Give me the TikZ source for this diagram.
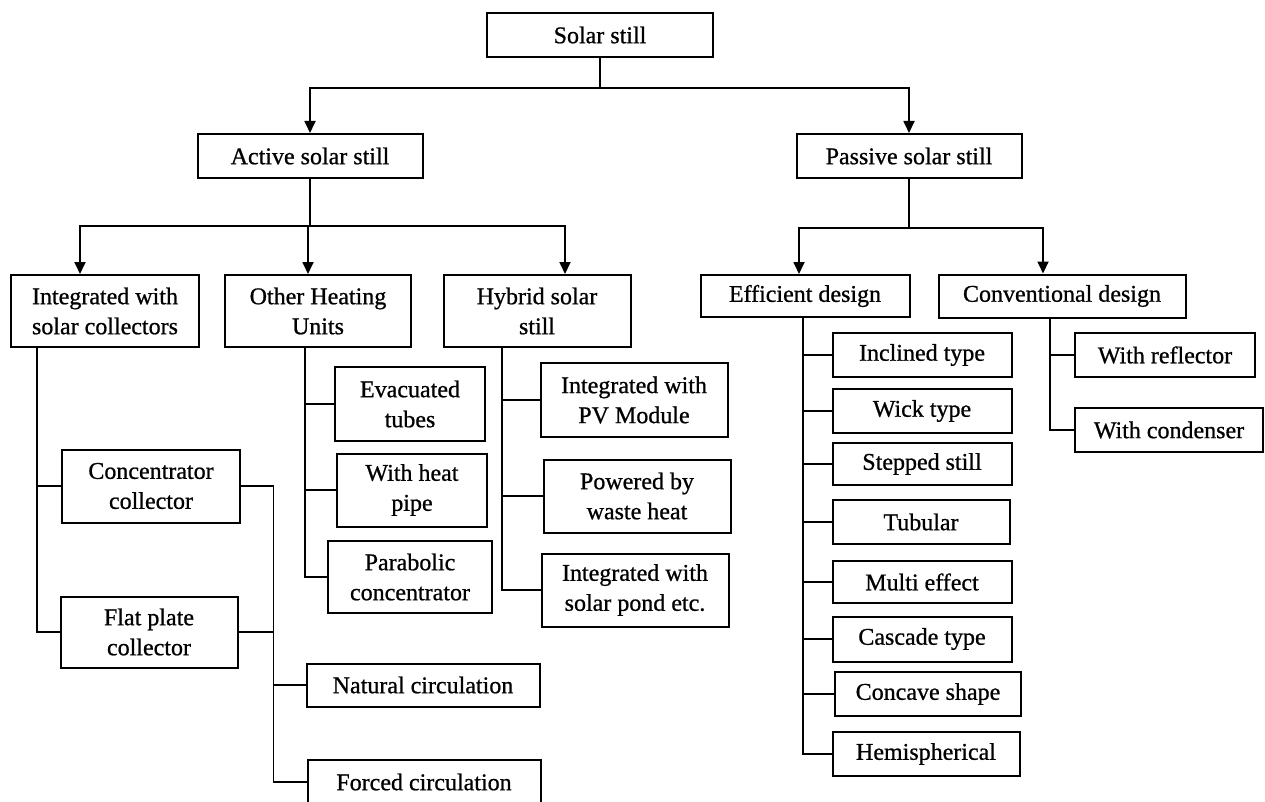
\documentclass[tikz,border=0pt]{standalone}
\usepackage{fontspec}
\setmainfont[FakeBold=0.8]{Liberation Serif}
\usepackage{tikz}
\usetikzlibrary{arrows.meta,positioning}

\begin{document}
\begin{tikzpicture}[x=1pt,y=-1pt,line width=1.8pt,>={Triangle[length=12pt,width=11pt]},
    box/.style={rectangle,draw,line width=2pt,align=center,inner sep=2pt,font=\fontsize{24}{30}\selectfont},
    wh/.style 2 args={minimum width=#1pt,minimum height=#2pt}]
    \useasboundingbox (0,0) rectangle (1265,802);

    \node[box,wh={226}{44}] (solar)   at (600,35)  {Solar still};
    \node[box,wh={225}{44}] (active)  at (310,156) {Active solar still};
    \node[box,wh={225}{44}] (passive) at (909,156) {Passive solar still};

    \node[box,wh={188}{72}] (integ)  at (105,311) {Integrated with\\solar collectors};
    \node[box,wh={186}{72}] (other)  at (318,311) {Other Heating\\Units};
    \node[box,wh={187}{72}] (hybrid) at (537,311) {Hybrid solar\\still};
    \node[box,wh={209}{42}] (effic)  at (805,296) {Efficient design};
    \node[box,wh={247}{43}] (conv)   at (1062,296) {Conventional design};

    \draw (solar.south) -- ++(0,30) coordinate (j0);
    \draw[->] (j0) -| (active.north);
    \draw[->] (j0) -| (passive.north);
    \draw (active.south) -- ++(0,47) coordinate (j1);
    \draw[->] (j1) -| ([xshift=-25pt]integ.north);
    \draw[->] (j1) -| ([xshift=-10pt]other.north);
    \draw[->] (j1) -| ([xshift=28pt]hybrid.north);
    \draw (passive.south) -- ++(0,49) coordinate (j2);
    \draw[->] (j2) -| ([xshift=-6pt]effic.north);
    \draw[->] (j2) -| ([xshift=-19pt]conv.north);

    % solar collectors
    \node[box,wh={178}{73}] (conc)   at (151,486) {Concentrator\\collector};
    \node[box,wh={177}{71}] (flat)   at (149,632) {Flat plate\\collector};
    \node[box,wh={233}{43}] (natur)  at (423,685) {Natural circulation};
    \node[box,wh={233}{44}] (forced) at (424,782) {Forced circulation};

    \coordinate (r1) at ([xshift=-33pt]forced.west |- conc.east);
    \draw ([xshift=-68pt]integ.south) coordinate (r0) |- (flat.west);
    \draw (r0 |- conc.west) -- (conc.west);
    \draw (conc.east) -- (r1) |- (forced.west);
    \draw (flat.east) -- (flat.east -| r1);
    \draw (r1 |- natur.west) -- (natur.west);

    % other heating units
    \node[box,wh={150}{74}] (evac)  at (410,404) {Evacuated\\tubes};
    \node[box,wh={150}{73}] (pipe)  at (412,490) {With heat\\pipe};
    \node[box,wh={164}{72}] (parab) at (410,577) {Parabolic\\concentrator};

    \draw ([xshift=-13pt]other.south) coordinate (r2) |- (parab.west);
    \draw (r2 |- evac.west) -- (evac.west);
    \draw (r2 |- pipe.west) -- (pipe.west);

    % hybrid
    \node[box,wh={187}{74}] (pv)    at (634,400) {Integrated with\\PV Module};
    \node[box,wh={187}{73}] (waste) at (637,496) {Powered by\\waste heat};
    \node[box,wh={187}{73}] (pond)  at (635,590) {Integrated with\\solar pond etc.};

    \draw ([xshift=-35pt]hybrid.south) coordinate (r3) |- (pond.west);
    \draw (r3 |- pv.west) -- (pv.west);
    \draw (r3 |- waste.west) -- (waste.west);

    % efficient design
    \node[box,wh={179}{44}] (incl)  at (922,355) {Inclined type};
    \node[box,wh={179}{44}] (wick)  at (922,411) {Wick type};
    \node[box,wh={179}{42}] (stepd) at (922,464) {Stepped still};
    \node[box,wh={177}{44}] (tubul) at (921,522) {Tubular};
    \node[box,wh={179}{42}] (multi) at (922,582) {Multi effect};
    \node[box,wh={179}{45}] (casc)  at (922,639) {Cascade type};
    \node[box,wh={186}{44}] (conca) at (928,694) {Concave shape};
    \node[box,wh={187}{44}] (hemi)  at (926,754) {Hemispherical};

    \draw ([xshift=-2pt]effic.south) coordinate (r4) |- (hemi.west);
    \draw (r4 |- incl.west) -- (incl.west);
    \draw (r4 |- wick.west) -- (wick.west);
    \draw (r4 |- stepd.west) -- (stepd.west);
    \draw (r4 |- tubul.west) -- (tubul.west);
    \draw (r4 |- multi.west) -- (multi.west);
    \draw (r4 |- casc.west) -- (casc.west);
    \draw (r4 |- conca.west) -- (conca.west);

    % conventional design
    \node[box,wh={180}{44}] (refl) at (1165,355) {With reflector};
    \node[box,wh={188}{44}] (cond) at (1169,430) {With condenser};

    \draw ([xshift=-12pt]conv.south) coordinate (r5) |- (cond.west);
    \draw (r5 |- refl.west) -- (refl.west);

\end{tikzpicture}
\end{document}
